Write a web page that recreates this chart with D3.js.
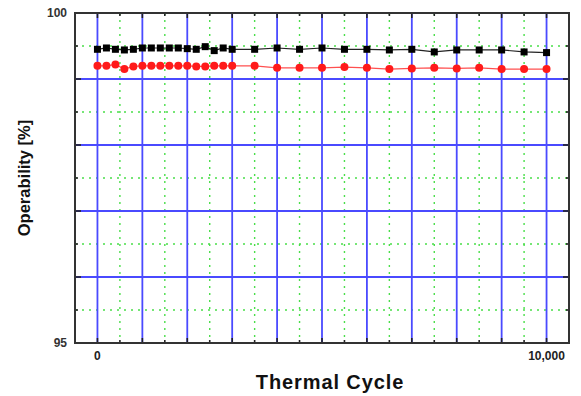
<!DOCTYPE html>
<html>
<head>
<meta charset="utf-8">
<script src="https://cdn.jsdelivr.net/npm/d3@7"></script>
<style>
  body { margin: 0; background: #fff; }
  text { font-family: "Liberation Sans", Arial, sans-serif; }
</style>
</head>
<body>
<script>
// thermal cycle counts
var cycles = [0, 200, 400, 600, 800, 1000, 1200, 1400, 1600, 1800, 2000, 2200, 2400, 2600, 2800, 3000,
              3500, 4000, 4500, 5000, 5500, 6000, 6500, 7000, 7500, 8000, 8500, 9000, 9500, 10000];

// operability series (%)
var seriesBlack = [99.45, 99.47, 99.45, 99.44, 99.45, 99.47, 99.47, 99.47, 99.47, 99.47, 99.46, 99.45, 99.49, 99.43, 99.47, 99.45,
                   99.45, 99.47, 99.45, 99.47, 99.45, 99.45, 99.44, 99.45, 99.41, 99.44, 99.44, 99.44, 99.41, 99.40];
var seriesRed = [99.20, 99.20, 99.22, 99.15, 99.19, 99.20, 99.20, 99.20, 99.20, 99.20, 99.20, 99.19, 99.19, 99.20, 99.20, 99.20,
                 99.20, 99.17, 99.17, 99.17, 99.18, 99.17, 99.15, 99.16, 99.17, 99.16, 99.17, 99.15, 99.15, 99.15];

var xMajor = d3.range(0, 10001, 1000);
var xMinor = d3.range(500, 10000, 1000);
var yMajor = [96, 97, 98, 99];
var yMinor = [95.5, 96.5, 97.5, 98.5, 99.5];
var xLabels = [0, 10000];
var yLabels = [95, 100];

var W = 581, H = 396;
var margin = {top: 13, right: 12, bottom: 53, left: 75},
    width = W - margin.left - margin.right,
    height = H - margin.top - margin.bottom;

var xScale = d3.scaleLinear().domain([-500, 10500]).range([0, width]);
var yScale = d3.scaleLinear().domain([95, 100]).range([height, 0]);

var svg = d3.select("body").append("svg")
    .attr("width", W)
    .attr("height", H)
    .append("g")
    .attr("transform", "translate(" + margin.left + "," + margin.top + ")");

// green dotted minor grid
svg.selectAll(".gx")
    .data(xMinor).enter().append("line")
    .attr("x1", d => xScale(d)).attr("x2", d => xScale(d))
    .attr("y1", 0).attr("y2", height)
    .attr("stroke", "#4ade4a").attr("stroke-width", 1.4)
    .attr("stroke-dasharray", "2,5");
svg.selectAll(".gy")
    .data(yMinor).enter().append("line")
    .attr("y1", d => yScale(d)).attr("y2", d => yScale(d))
    .attr("x1", 0).attr("x2", width)
    .attr("stroke", "#4ade4a").attr("stroke-width", 1.4)
    .attr("stroke-dasharray", "2,5");

// blue major grid
svg.selectAll(".bx")
    .data(xMajor).enter().append("line")
    .attr("x1", d => xScale(d)).attr("x2", d => xScale(d))
    .attr("y1", 0).attr("y2", height)
    .attr("stroke", "#4a4aff").attr("stroke-width", 1.8);
svg.selectAll(".by")
    .data(yMajor).enter().append("line")
    .attr("y1", d => yScale(d)).attr("y2", d => yScale(d))
    .attr("x1", 0).attr("x2", width)
    .attr("stroke", "#4a4aff").attr("stroke-width", 1.8);

// ticks inside the frame
var tickG = svg.append("g").attr("stroke", "#222").attr("stroke-width", 1.6);
xMajor.concat(xMinor).forEach(function(d) {
    var len = xMajor.indexOf(d) >= 0 ? 5 : 3;
    tickG.append("line").attr("x1", xScale(d)).attr("x2", xScale(d)).attr("y1", 0).attr("y2", len);
    tickG.append("line").attr("x1", xScale(d)).attr("x2", xScale(d)).attr("y1", height).attr("y2", height - len);
});
yMajor.concat(yMinor).forEach(function(d) {
    var len = yMajor.indexOf(d) >= 0 ? 6 : 3;
    tickG.append("line").attr("y1", yScale(d)).attr("y2", yScale(d)).attr("x1", 0).attr("x2", len);
    tickG.append("line").attr("y1", yScale(d)).attr("y2", yScale(d)).attr("x1", width).attr("x2", width - len);
});

// frame
svg.append("rect")
    .attr("width", width).attr("height", height)
    .attr("fill", "none").attr("stroke", "#333").attr("stroke-width", 2);

// series
var line = d3.line().x(d => xScale(d[0])).y(d => yScale(d[1]));
var blackData = cycles.map((c, i) => [c, seriesBlack[i]]);
var redData = cycles.map((c, i) => [c, seriesRed[i]]);

svg.append("path").datum(blackData).attr("d", line)
    .attr("fill", "none").attr("stroke", "#222").attr("stroke-width", 1.2);
svg.append("path").datum(redData).attr("d", line)
    .attr("fill", "none").attr("stroke", "#ff5050").attr("stroke-width", 1.2);

svg.selectAll(".sq")
    .data(blackData).enter().append("rect")
    .attr("x", d => xScale(d[0]) - 3.5).attr("y", d => yScale(d[1]) - 3.5)
    .attr("width", 7).attr("height", 7)
    .attr("fill", "#000");
svg.selectAll(".dot")
    .data(redData).enter().append("circle")
    .attr("cx", d => xScale(d[0])).attr("cy", d => yScale(d[1]))
    .attr("r", 4)
    .attr("fill", "#ff1a1a");

// tick labels
svg.selectAll(".yl")
    .data(yLabels).enter().append("text")
    .attr("x", -8).attr("y", d => yScale(d) + 4)
    .attr("text-anchor", "end")
    .style("font-size", "12px").style("font-weight", "bold")
    .attr("fill", "#333")
    .text(d => d);
svg.selectAll(".xl")
    .data(xLabels).enter().append("text")
    .attr("x", d => xScale(d)).attr("y", height + 17)
    .attr("text-anchor", "middle")
    .style("font-size", "12px").style("font-weight", "bold")
    .attr("fill", "#222")
    .text(d => d3.format(",")(d));

// axis titles
svg.append("text")
    .attr("transform", "translate(" + (30 - margin.left) + "," + (178 - margin.top) + ") rotate(-90)")
    .attr("text-anchor", "middle")
    .style("font-size", "16.5px").style("font-weight", "bold")
    .attr("fill", "#111")
    .text("Operability [%]");
svg.append("text")
    .attr("x", 330 - margin.left).attr("y", 389 - margin.top)
    .attr("text-anchor", "middle")
    .style("font-size", "20px").style("font-weight", "bold")
    .style("letter-spacing", "0.9px")
    .attr("fill", "#111")
    .text("Thermal Cycle");
</script>
</body>
</html>
